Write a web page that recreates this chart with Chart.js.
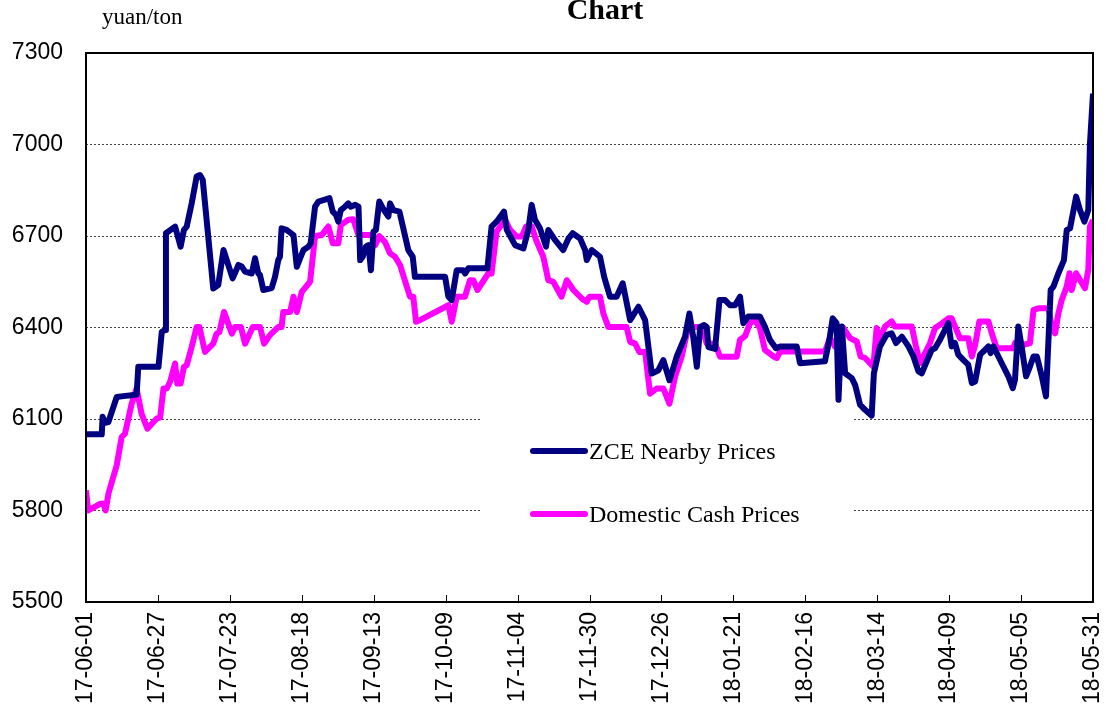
<!DOCTYPE html>
<html>
<head>
<meta charset="utf-8">
<script src="https://cdn.jsdelivr.net/npm/chart.js@4"></script>
<style>
  body { margin: 0; background: #fff; }
  canvas { display: block; }
</style>
</head>
<body>
<canvas id="myChart" width="1110" height="708"></canvas>
<script>
// x values are days counted from 2017-06-01
const xTickLabels = ['17-06-01', '17-06-27', '17-07-23', '17-08-18', '17-09-13', '17-10-09', '17-11-04',
  '17-11-30', '17-12-26', '18-01-21', '18-02-16', '18-03-14', '18-04-09', '18-05-05', '18-05-31']

const zceDays = [0, 5.7, 6, 6.9, 8.1, 11.1, 13.5, 16.5, 18.3, 18.9, 26.2, 27.4, 28.6, 28.9, 32.2, 34.2, 35.4, 36.4,
  38.2, 40, 41.2, 42.2, 46, 47.8, 49.7, 53, 55.1, 56.3, 57.5, 59.9, 61.1, 62.3, 62.9, 64.1, 67.1, 68.3, 69.5, 70.1,
  70.7, 72.5, 75, 76.2, 77.4, 78.6, 80.4, 81.2, 82.8, 84, 85.8, 88, 89.2, 90.4, 91.2, 92.1, 93.6, 94.8, 95.7, 97.3,
  98.5, 99.1, 100, 101.2, 102.1, 103, 103.9, 104.8, 106, 107.3, 109.3, 109.9, 111.1, 113.3, 116.5, 118.1, 118.9,
  129.8, 131, 132.2, 134, 136.4, 137, 138.2, 145.1, 146.6, 148.4, 151.1, 152.1, 155.1, 158.1, 159.9, 161.1, 162.3,
  164.1, 166.3, 167.1, 169.5, 172.5, 174.4, 175.9, 178.6, 180.4, 181, 182.8, 185.8, 187.3, 189.4, 191.8, 194, 196.7,
  199.7, 202.1, 204.5, 206.9, 208.7, 210.9, 213.5, 216.5, 218.1, 219.5, 220.8, 222, 223.4, 224.4, 225, 227.4, 229,
  231, 232.8, 234.6, 236.4, 237.6, 239.4, 243.6, 245.4, 247.2, 249.4, 250.9, 256.9, 258.1, 267.1, 268.7, 269.9,
  271.3, 272, 273.2, 274.4, 276.8, 278, 279.8, 281.6, 284, 284.8, 287, 289.4, 291.2, 292.8, 294.9, 297.3, 299.1,
  300.9, 302.1, 303.9, 305.7, 306.9, 308.7, 311.7, 312.9, 314.1, 315.3, 317.1, 318.9, 320.2, 321.4, 323.2, 325,
  326.2, 327, 328, 329.8, 331.6, 333.4, 335, 335.8, 337, 338.2, 339.8, 341.2, 342.5, 343.7, 345.5, 347, 348.7, 349.7,
  351.5, 353.5, 354.5, 355.7, 357.9, 359.3, 360.9, 362.3, 362.9, 364]
const zcePrices = [6050, 6050, 6107, 6087, 6090, 6172, 6175, 6178, 6180, 6271, 6271, 6386, 6392, 6709, 6731, 6665, 6720, 6731,
  6807, 6895, 6900, 6884, 6528, 6539, 6654, 6561, 6605, 6600, 6583, 6577, 6627, 6577, 6572, 6523, 6529, 6565, 6621, 6632,
  6725, 6720, 6703, 6599, 6627, 6654, 6665, 6676, 6796, 6813, 6818, 6824, 6780, 6769, 6747, 6785, 6796, 6807, 6796, 6802,
  6796, 6621, 6632, 6665, 6670, 6588, 6714, 6720, 6813, 6791, 6764, 6807, 6785, 6780, 6654, 6632, 6566,
  6566, 6501, 6490, 6588, 6588, 6577, 6594, 6594, 6731, 6747, 6780, 6720, 6670, 6659, 6720, 6802, 6753,
  6725, 6665, 6720, 6687, 6654, 6692, 6709, 6692, 6654, 6621, 6654, 6632, 6566, 6501, 6501, 6545, 6424,
  6468, 6424, 6249, 6260, 6293, 6227, 6304, 6369, 6446, 6369, 6271, 6402, 6408, 6402, 6336, 6330, 6490,
  6490, 6473, 6473, 6501, 6414, 6436, 6436, 6403, 6360, 6332, 6338, 6338, 6283, 6289, 6360, 6430,
  6414, 6163, 6403, 6250, 6234, 6212, 6147, 6130, 6111, 6250, 6338, 6376, 6381, 6349, 6370, 6338, 6305,
  6256, 6250, 6289, 6327, 6332, 6360, 6414, 6338, 6349, 6311, 6294, 6278, 6218, 6223, 6311, 6327,
  6338, 6316, 6338, 6305, 6272, 6240, 6201, 6229, 6403, 6338, 6240, 6272, 6305, 6305, 6240, 6174, 6523, 6534,
  6578, 6621, 6720, 6725, 6829, 6785, 6747, 6785, 7003, 7167]

const cashDays = [0, 0.8, 5.1, 6.3, 7.1, 8.1, 11.1, 12.9, 14.1, 16.5, 18.3, 20.1, 22.2, 25.5, 26.8, 28, 29.2, 30.4,
  32.2, 33, 34.2, 35.4, 36.4, 38.2, 40, 41, 43, 46, 47.2, 48.2, 49.9, 52.7, 53.9, 56, 57.5, 60.3, 62.9, 64.4, 66.5,
  69.5, 70.7, 71.3, 73.8, 75, 76.2, 78, 81, 82.8, 85.2, 87.6, 89.2, 91.2, 92.1, 94.8, 96.6, 98.5, 103.3, 104.5, 106,
  108.1, 109.9, 111.7, 113.5, 117.1, 118.3, 119.3, 120.7, 131, 132.2, 134, 137, 138.8, 140, 141.5, 145.4, 146.6,
  148.4, 151.5, 153.3, 155.7, 157.5, 159.1, 161.1, 162.7, 165.3, 167.1, 168.9, 171.9, 173.8, 176.2, 179.2, 181, 182,
  185.8, 187, 188.8, 195.4, 196.7, 198.5, 200, 202.1, 203.9, 206.3, 208.7, 210.9, 212.9, 215.3, 217.7, 222.6, 224.4,
  227.4, 229.2, 235.2, 236.4, 238.2, 240, 241.8, 243.6, 245.4, 248.5, 249.7, 250.9, 267.1, 268.9, 270.7, 272.6,
  273.8, 276.2, 278.6, 280, 281.6, 284.6, 285.8, 286.8, 288.8, 291.2, 292.4, 298.5, 300, 301.5, 303.3, 305.1, 306.9,
  308.7, 311.7, 312.9, 315.9, 318.9, 320.2, 321.4, 322.9, 326.2, 327.4, 329.2, 335.2, 335.8, 337, 338.8, 341.2,
  342.5, 344.3, 347.9, 349.1, 350.3, 351.5, 352.7, 354.5, 355.5, 356.3, 357.9, 359.3, 361.1, 362.3, 362.9, 364]
const cashPrices = [5866, 5800, 5822, 5822, 5800, 5855, 5948, 6041, 6052, 6150, 6200, 6117, 6068, 6101, 6105, 6200, 6200, 6222,
  6282, 6216, 6216, 6271, 6276, 6336, 6402, 6402, 6320, 6347, 6380, 6385, 6451, 6380, 6402, 6402, 6347, 6402, 6402, 6347, 6375,
  6402, 6402, 6451, 6451, 6501, 6451, 6517, 6550, 6700, 6703, 6731, 6676, 6676, 6736, 6753, 6755, 6703, 6703, 6670, 6700,
  6680, 6643, 6632, 6605, 6501, 6501, 6419, 6424, 6473, 6419, 6501, 6501, 6555, 6555, 6523, 6577, 6577,
  6714, 6753, 6720, 6698, 6698, 6731, 6731, 6687, 6632, 6555, 6550, 6501, 6555, 6523, 6495, 6484, 6501,
  6501, 6446, 6402, 6402, 6353, 6347, 6320, 6320, 6183, 6200, 6200, 6150, 6238, 6304, 6402, 6402, 6347,
  6347, 6304, 6304, 6360, 6371, 6414, 6425, 6398, 6327, 6305, 6300, 6321, 6321, 6365, 6338, 6398,
  6398, 6365, 6354, 6305, 6300, 6272, 6398, 6360, 6403, 6420, 6403, 6403, 6338, 6283, 6316, 6349, 6398,
  6409, 6430, 6430, 6365, 6365, 6305, 6343, 6420, 6420, 6381, 6332, 6332, 6349, 6332, 6343, 6349,
  6458, 6463, 6463, 6403, 6381, 6447, 6490, 6534, 6578, 6523, 6578, 6556, 6529, 6589, 6731, 6752]

const seriesNames = ['ZCE Nearby Prices', 'Domestic Cash Prices']
const seriesColors = ['#000080', '#ff00ff']

const toPoints = (days, prices) => days.map((d, i) => ({x: d, y: prices[i]}))

// title, unit, frame, inner ticks and the boxed legend
const decorations = {
  id: 'decorations',
  beforeDatasetsDraw(chart) {
    const {ctx} = chart
    ctx.save()
    ctx.fillStyle = '#fff'
    ctx.fillRect(480, 413, 372, 132)
    ctx.restore()
  },
  afterDatasetsDraw(chart) {
    const {ctx, chartArea: a} = chart
    const xs = chart.scales.x
    ctx.save()
    ctx.strokeStyle = '#000'
    ctx.lineWidth = 1
    xs.ticks.forEach(t => {
      const px = Math.round(xs.getPixelForValue(t.value)) + 0.5
      ctx.beginPath()
      ctx.moveTo(px, a.bottom)
      ctx.lineTo(px, a.bottom - 7)
      ctx.stroke()
    })
    ctx.lineWidth = 2
    ctx.strokeRect(a.left, a.top, a.right - a.left, a.bottom - a.top)

    // legend
    ctx.font = '24px "Liberation Serif"'
    ctx.textBaseline = 'alphabetic'
    ctx.fillStyle = '#000'
    chart.data.datasets.forEach((ds, i) => {
      const y = 451 + i * 63
      ctx.strokeStyle = ds.borderColor
      ctx.lineWidth = 6
      ctx.lineCap = 'round'
      ctx.beginPath()
      ctx.moveTo(533, y)
      ctx.lineTo(585, y)
      ctx.stroke()
      ctx.fillText(ds.label, 589, y + 8)
    })

    ctx.font = 'bold 30px "Liberation Serif"'
    ctx.textAlign = 'center'
    ctx.fillText('Chart', 605, 19)
    ctx.font = '23px "Liberation Serif"'
    ctx.textAlign = 'left'
    ctx.fillText('yuan/ton', 102, 24)
    ctx.restore()
  }
}

new Chart(
  document.getElementById('myChart'),
  {
    type: 'line',
    data: {
      datasets: [
        {
          label: seriesNames[0],
          data: toPoints(zceDays, zcePrices),
          borderColor: seriesColors[0],
          backgroundColor: seriesColors[0],
          borderWidth: 6,
          pointRadius: 0,
          borderJoinStyle: 'round'
        },
        {
          label: seriesNames[1],
          data: toPoints(cashDays, cashPrices),
          borderColor: seriesColors[1],
          backgroundColor: seriesColors[1],
          borderWidth: 6,
          pointRadius: 0,
          borderJoinStyle: 'round'
        }
      ]
    },
    options: {
      responsive: false,
      animation: false,
      devicePixelRatio: 1,
      layout: {
        padding: {top: 53, right: 17, left: 0, bottom: 0}
      },
      plugins: {
        legend: {display: false},
        tooltip: {enabled: false}
      },
      scales: {
        x: {
          type: 'linear',
          min: 0,
          max: 364,
          afterFit: scale => {
            scale.height = 106
            scale.paddingLeft = 0
            scale.paddingRight = 0
          },
          grid: {display: false, drawTicks: false},
          border: {display: false},
          ticks: {
            stepSize: 26,
            autoSkip: false,
            minRotation: 90,
            maxRotation: 90,
            padding: 10,
            color: '#000',
            font: {family: 'Liberation Sans', size: 23},
            callback: value => xTickLabels[Math.round(value / 26)]
          }
        },
        y: {
          min: 5500,
          max: 7300,
          afterFit: scale => {
            scale.width = 86
            scale.paddingTop = 0
            scale.paddingBottom = 0
          },
          grid: {color: '#444', lineWidth: 1, drawTicks: false},
          border: {display: false, dash: [2, 2]},
          ticks: {
            stepSize: 300,
            padding: 23,
            color: '#000',
            font: {family: 'Liberation Sans', size: 23},
            callback: value => String(value)
          }
        }
      }
    },
    plugins: [decorations]
  }
)
</script>
</body>
</html>
